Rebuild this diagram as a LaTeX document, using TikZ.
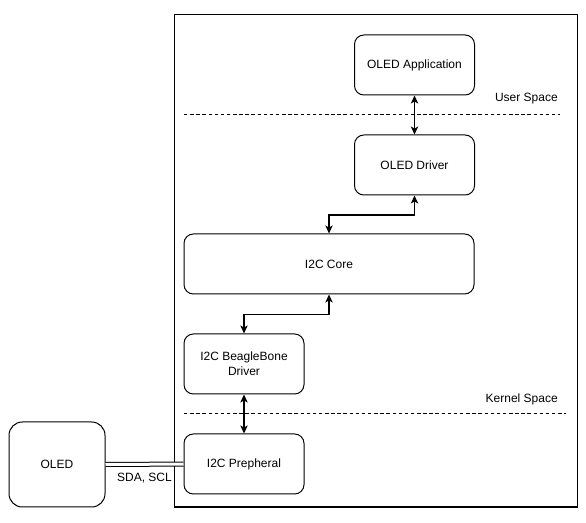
\documentclass[tikz,border=0pt]{standalone}
\usepackage{fontspec}
\setmainfont{Liberation Sans}
\usepackage{tikz}
\usetikzlibrary{calc}
\usetikzlibrary{positioning}
\usetikzlibrary{arrows.meta}

\tikzset{
	blockbox/.style={draw, line width=0.75pt, rounded corners=7pt, minimum width=90pt, minimum height=45pt, align=center, font=\fontsize{9pt}{11pt}\selectfont},
	link/.style={line width=0.9pt, {Stealth[length=6pt,width=5.5pt,inset=1.5pt]}-{Stealth[length=6pt,width=5.5pt,inset=1.5pt]}},
	spacelbl/.style={anchor=east, inner sep=0pt, font=\fontsize{9pt}{11pt}\selectfont},
	sep/.style={line width=0.75pt, dash pattern=on 2.6pt off 2pt}
}

\begin{document}
\begin{tikzpicture}[x=0.75pt, y=-0.75pt]
				\useasboundingbox (0,0) rectangle (586,523);
				\draw[line width=0.9pt] (174.5,14.5) rectangle (577.5,507);
				
				\node[blockbox] (A) at (414.5,65) {OLED Application};
				\node[blockbox] (B) at (414.5,165) {OLED Driver};
				\node[blockbox, minimum width=217.5pt] (C) at (329,264) {I2C Core};
				\node[blockbox] (D) at (244,364) {I2C BeagleBone\\Driver};
				\node[blockbox] (E) at (244,464) {I2C Prepheral};
				\node[blockbox, minimum width=72pt, minimum height=63.75pt, rounded corners=10pt] (F) at (57,464.5) {OLED};
				
				\draw[sep] (184,115) -- (560,115);
				\draw[sep] (184,414) -- (566,414);
				\node[spacelbl] (U) at (558,99) {User Space};
				\node[spacelbl] (K) at (558,399) {Kernel Space};
				
				\draw[link] (A) -- (B);
				\draw[link] (B.south) -- ++(0,19.5) -| (C.north);
				\draw[link] (C.south) -- ++(0,20) -| (D.north);
				\draw[link] (D) -- (E);
				\draw[line width=0.75pt, double, double distance=2.25pt] (F) -- (E) node[midway, below=3pt, font=\fontsize{9pt}{11pt}\selectfont] (S) {SDA, SCL};
			\end{tikzpicture}
\end{document}
